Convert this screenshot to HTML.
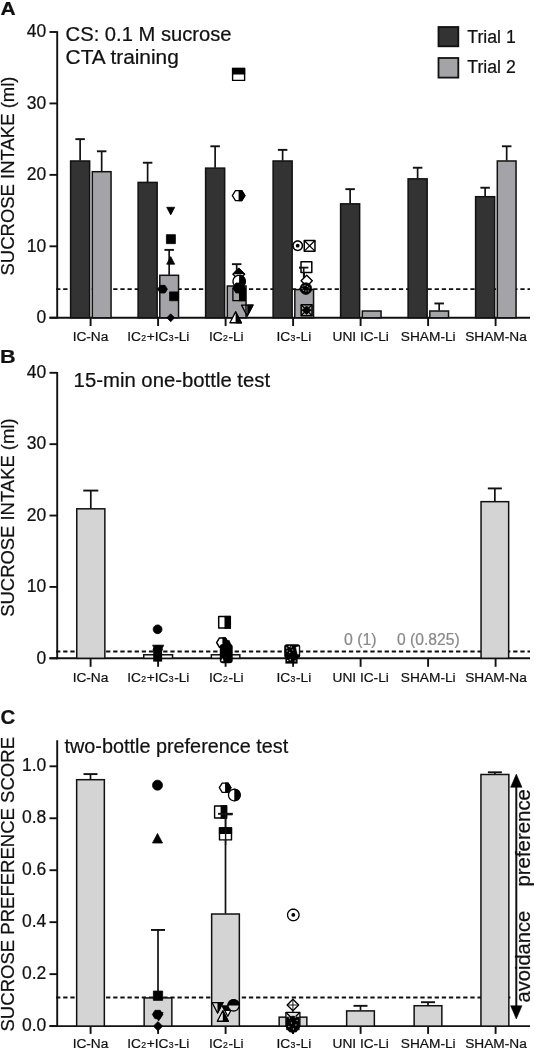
<!DOCTYPE html><html><head><meta charset="utf-8"><title>Figure</title><style>html,body{margin:0;padding:0;background:#fff}svg{display:block}</style></head><body>
<svg width="534" height="1050" viewBox="0 0 534 1050" font-family="&quot;Liberation Sans&quot;, sans-serif">
<rect width="534" height="1050" fill="#fff"/>
<text x="0.6" y="14.5" font-size="19" text-anchor="start" font-weight="bold" fill="#111" textLength="15.2" lengthAdjust="spacingAndGlyphs" stroke="#111" stroke-width="0.22" >A</text>
<text x="65.6" y="41" font-size="20" text-anchor="start" font-weight="normal" fill="#111" textLength="166" lengthAdjust="spacingAndGlyphs" stroke="#111" stroke-width="0.22" >CS: 0.1 M sucrose</text>
<text x="65.6" y="63.8" font-size="20" text-anchor="start" font-weight="normal" fill="#111" textLength="113.2" lengthAdjust="spacingAndGlyphs" stroke="#111" stroke-width="0.22" >CTA training</text>
<rect x="438.50" y="27.00" width="19.80" height="19.30" fill="#333333" stroke="#111" stroke-width="1.8"/>
<rect x="438.50" y="58.00" width="19.80" height="19.60" fill="#a4a3a7" stroke="#111" stroke-width="1.8"/>
<text x="467.3" y="43.2" font-size="18" text-anchor="start" font-weight="normal" fill="#111" textLength="48.5" lengthAdjust="spacingAndGlyphs" stroke="#111" stroke-width="0.22" >Trial 1</text>
<text x="467.3" y="73.2" font-size="18" text-anchor="start" font-weight="normal" fill="#111" textLength="48.5" lengthAdjust="spacingAndGlyphs" stroke="#111" stroke-width="0.22" >Trial 2</text>
<line x1="57.20" y1="31.14" x2="57.20" y2="318.60" stroke="#111" stroke-width="1.9"/>
<line x1="49.50" y1="317.75" x2="530.00" y2="317.75" stroke="#111" stroke-width="1.9"/>
<line x1="49.50" y1="317.75" x2="57.20" y2="317.75" stroke="#111" stroke-width="1.9"/>
<text x="46.3" y="323.05" font-size="17.5" text-anchor="end" font-weight="normal" fill="#111" stroke="#111" stroke-width="0.22" >0</text>
<line x1="49.50" y1="246.31" x2="57.20" y2="246.31" stroke="#111" stroke-width="1.9"/>
<text x="46.3" y="251.61" font-size="17.5" text-anchor="end" font-weight="normal" fill="#111" stroke="#111" stroke-width="0.22" >10</text>
<line x1="49.50" y1="174.87" x2="57.20" y2="174.87" stroke="#111" stroke-width="1.9"/>
<text x="46.3" y="180.17000000000002" font-size="17.5" text-anchor="end" font-weight="normal" fill="#111" stroke="#111" stroke-width="0.22" >20</text>
<line x1="49.50" y1="103.43" x2="57.20" y2="103.43" stroke="#111" stroke-width="1.9"/>
<text x="46.3" y="108.73" font-size="17.5" text-anchor="end" font-weight="normal" fill="#111" stroke="#111" stroke-width="0.22" >30</text>
<line x1="49.50" y1="31.99" x2="57.20" y2="31.99" stroke="#111" stroke-width="1.9"/>
<text x="46.3" y="37.290000000000006" font-size="17.5" text-anchor="end" font-weight="normal" fill="#111" stroke="#111" stroke-width="0.22" >40</text>
<line x1="90.60" y1="317.75" x2="90.60" y2="326.05" stroke="#111" stroke-width="1.9"/>
<line x1="158.10" y1="317.75" x2="158.10" y2="326.05" stroke="#111" stroke-width="1.9"/>
<line x1="225.60" y1="317.75" x2="225.60" y2="326.05" stroke="#111" stroke-width="1.9"/>
<line x1="293.10" y1="317.75" x2="293.10" y2="326.05" stroke="#111" stroke-width="1.9"/>
<line x1="360.60" y1="317.75" x2="360.60" y2="326.05" stroke="#111" stroke-width="1.9"/>
<line x1="428.10" y1="317.75" x2="428.10" y2="326.05" stroke="#111" stroke-width="1.9"/>
<line x1="495.60" y1="317.75" x2="495.60" y2="326.05" stroke="#111" stroke-width="1.9"/>
<text x="14.3" y="275.5" font-size="18" text-anchor="start" font-weight="normal" fill="#111" textLength="199" lengthAdjust="spacingAndGlyphs" transform="rotate(-90 14.3 275.5)" stroke="#111" stroke-width="0.22" >SUCROSE INTAKE (ml)</text>
<line x1="56.05" y1="289.17" x2="530.00" y2="289.17" stroke="#111" stroke-width="1.9" stroke-dasharray="4.3 2.843"/>
<rect x="70.60" y="160.98" width="19.05" height="156.77" fill="#333333" stroke="#111" stroke-width="1.5"/>
<line x1="80.12" y1="160.58" x2="80.12" y2="139.15" stroke="#111" stroke-width="1.7"/>
<line x1="75.38" y1="139.15" x2="84.88" y2="139.15" stroke="#111" stroke-width="1.9"/>
<rect x="92.30" y="171.70" width="18.75" height="146.05" fill="#a4a3a7" stroke="#111" stroke-width="1.5"/>
<line x1="101.67" y1="171.30" x2="101.67" y2="151.29" stroke="#111" stroke-width="1.7"/>
<line x1="96.92" y1="151.29" x2="106.42" y2="151.29" stroke="#111" stroke-width="1.9"/>
<rect x="138.10" y="182.41" width="19.05" height="135.34" fill="#333333" stroke="#111" stroke-width="1.5"/>
<line x1="147.62" y1="182.01" x2="147.62" y2="162.73" stroke="#111" stroke-width="1.7"/>
<line x1="142.88" y1="162.73" x2="152.38" y2="162.73" stroke="#111" stroke-width="1.9"/>
<rect x="159.80" y="275.29" width="18.75" height="42.46" fill="#a4a3a7" stroke="#111" stroke-width="1.5"/>
<line x1="169.17" y1="274.89" x2="169.17" y2="249.88" stroke="#111" stroke-width="1.7"/>
<line x1="164.42" y1="249.88" x2="173.92" y2="249.88" stroke="#111" stroke-width="1.9"/>
<rect x="205.60" y="168.13" width="19.05" height="149.62" fill="#333333" stroke="#111" stroke-width="1.5"/>
<line x1="215.12" y1="167.73" x2="215.12" y2="146.29" stroke="#111" stroke-width="1.7"/>
<line x1="210.38" y1="146.29" x2="219.88" y2="146.29" stroke="#111" stroke-width="1.9"/>
<rect x="227.30" y="286.00" width="18.75" height="31.75" fill="#a4a3a7" stroke="#111" stroke-width="1.5"/>
<line x1="236.67" y1="285.60" x2="236.67" y2="264.17" stroke="#111" stroke-width="1.7"/>
<line x1="231.92" y1="264.17" x2="241.42" y2="264.17" stroke="#111" stroke-width="1.9"/>
<rect x="273.10" y="160.98" width="19.05" height="156.77" fill="#333333" stroke="#111" stroke-width="1.5"/>
<line x1="282.62" y1="160.58" x2="282.62" y2="149.87" stroke="#111" stroke-width="1.7"/>
<line x1="277.88" y1="149.87" x2="287.38" y2="149.87" stroke="#111" stroke-width="1.9"/>
<rect x="294.80" y="289.57" width="18.75" height="28.18" fill="#a4a3a7" stroke="#111" stroke-width="1.5"/>
<line x1="304.18" y1="289.17" x2="304.18" y2="267.74" stroke="#111" stroke-width="1.7"/>
<line x1="299.43" y1="267.74" x2="308.93" y2="267.74" stroke="#111" stroke-width="1.9"/>
<rect x="340.60" y="203.85" width="19.05" height="113.90" fill="#333333" stroke="#111" stroke-width="1.5"/>
<line x1="350.12" y1="203.45" x2="350.12" y2="189.16" stroke="#111" stroke-width="1.7"/>
<line x1="345.38" y1="189.16" x2="354.88" y2="189.16" stroke="#111" stroke-width="1.9"/>
<rect x="362.30" y="311.01" width="18.75" height="6.74" fill="#a4a3a7" stroke="#111" stroke-width="1.5"/>
<rect x="408.10" y="178.84" width="19.05" height="138.91" fill="#333333" stroke="#111" stroke-width="1.5"/>
<line x1="417.62" y1="178.44" x2="417.62" y2="167.73" stroke="#111" stroke-width="1.7"/>
<line x1="412.88" y1="167.73" x2="422.38" y2="167.73" stroke="#111" stroke-width="1.9"/>
<rect x="429.80" y="311.01" width="18.75" height="6.74" fill="#a4a3a7" stroke="#111" stroke-width="1.5"/>
<line x1="439.18" y1="310.61" x2="439.18" y2="303.46" stroke="#111" stroke-width="1.7"/>
<line x1="434.43" y1="303.46" x2="443.93" y2="303.46" stroke="#111" stroke-width="1.9"/>
<rect x="475.60" y="196.70" width="19.05" height="121.05" fill="#333333" stroke="#111" stroke-width="1.5"/>
<line x1="485.12" y1="196.30" x2="485.12" y2="187.73" stroke="#111" stroke-width="1.7"/>
<line x1="480.38" y1="187.73" x2="489.88" y2="187.73" stroke="#111" stroke-width="1.9"/>
<rect x="497.30" y="160.98" width="18.75" height="156.77" fill="#a4a3a7" stroke="#111" stroke-width="1.5"/>
<line x1="506.68" y1="160.58" x2="506.68" y2="146.29" stroke="#111" stroke-width="1.7"/>
<line x1="501.93" y1="146.29" x2="511.43" y2="146.29" stroke="#111" stroke-width="1.9"/>
<text x="90.5" y="341" font-size="13.7" text-anchor="middle" font-weight="normal" fill="#111" stroke="#111" stroke-width="0.22" >IC-Na</text>
<text x="158.3" y="341" font-size="13.7" text-anchor="middle" font-weight="normal" fill="#111" stroke="#111" stroke-width="0.22" >IC<tspan font-size="8.7" dx="0.4" letter-spacing="0.6">2</tspan>+IC<tspan font-size="8.7" dx="0.4" letter-spacing="0.6">3</tspan>-Li</text>
<text x="226.3" y="341" font-size="13.7" text-anchor="middle" font-weight="normal" fill="#111" stroke="#111" stroke-width="0.22" >IC<tspan font-size="8.7" dx="0.4" letter-spacing="0.6">2</tspan>-Li</text>
<text x="293.9" y="341" font-size="13.7" text-anchor="middle" font-weight="normal" fill="#111" stroke="#111" stroke-width="0.22" >IC<tspan font-size="8.7" dx="0.4" letter-spacing="0.6">3</tspan>-Li</text>
<text x="360.7" y="341" font-size="13.7" text-anchor="middle" font-weight="normal" fill="#111" stroke="#111" stroke-width="0.22" >UNI IC-Li</text>
<text x="428.25" y="341" font-size="13.7" text-anchor="middle" font-weight="normal" fill="#111" stroke="#111" stroke-width="0.22" >SHAM-Li</text>
<text x="496.0" y="341" font-size="13.7" text-anchor="middle" font-weight="normal" fill="#111" stroke="#111" stroke-width="0.22" >SHAM-Na</text>
<polygon points="170.70,214.89 174.70,207.29 166.70,207.29" fill="#000" stroke="#000" stroke-width="0.78" stroke-linejoin="round"/>
<polygon points="166.40,234.67 175.40,234.67 175.40,243.67 166.40,243.67" fill="#000" stroke="#000" stroke-width="0.78" stroke-linejoin="round"/>
<polygon points="170.70,256.60 174.70,264.20 166.70,264.20" fill="#000" stroke="#000" stroke-width="0.78" stroke-linejoin="round"/>
<polygon points="157.80,289.17 160.20,285.33 165.00,285.33 167.40,289.17 165.00,293.01 160.20,293.01" fill="#000" stroke="#000" stroke-width="0.78" stroke-linejoin="round"/>
<polygon points="169.60,291.92 178.40,291.92 178.40,300.72 169.60,300.72" fill="#000" stroke="#000" stroke-width="0.78" stroke-linejoin="round"/>
<polygon points="170.70,313.85 174.60,317.75 170.70,321.65 166.80,317.75" fill="#000" stroke="#000" stroke-width="0.78" stroke-linejoin="round"/>
<polygon points="232.60,68.40 244.60,68.40 244.60,80.40 232.60,80.40" fill="#fff" stroke="#000" stroke-width="1.4" stroke-linejoin="round"/>
<clipPath id="c1"><rect x="231.60" y="67.40" width="14.00" height="7.00"/></clipPath>
<polygon points="232.60,68.40 244.60,68.40 244.60,80.40 232.60,80.40" fill="#000" stroke="#000" stroke-width="1.4" clip-path="url(#c1)"/>
<polygon points="232.35,195.70 235.47,190.70 241.72,190.70 244.85,195.70 241.72,200.70 235.47,200.70" fill="#fff" stroke="#000" stroke-width="1.3" stroke-linejoin="round"/>
<clipPath id="c2"><rect x="238.60" y="188.45" width="7.25" height="14.50"/></clipPath>
<polygon points="232.35,195.70 235.47,190.70 241.72,190.70 244.85,195.70 241.72,200.70 235.47,200.70" fill="#000" stroke="#000" stroke-width="1.3" clip-path="url(#c2)"/>
<polygon points="238.80,268.50 244.60,274.30 238.80,280.10 233.00,274.30" fill="#fff" stroke="#000" stroke-width="1.3" stroke-linejoin="round"/>
<clipPath id="c3"><rect x="232.00" y="267.50" width="13.60" height="6.80"/></clipPath>
<polygon points="238.80,268.50 244.60,274.30 238.80,280.10 233.00,274.30" fill="#000" stroke="#000" stroke-width="1.3" clip-path="url(#c3)"/>
<polygon points="245.20,281.40 245.11,282.46 244.83,283.49 244.38,284.45 243.77,285.32 243.02,286.07 242.15,286.68 241.19,287.13 240.16,287.41 239.10,287.50 238.04,287.41 237.01,287.13 236.05,286.68 235.18,286.07 234.43,285.32 233.82,284.45 233.37,283.49 233.09,282.46 233.00,281.40 233.09,280.34 233.37,279.31 233.82,278.35 234.43,277.48 235.18,276.73 236.05,276.12 237.01,275.67 238.04,275.39 239.10,275.30 240.16,275.39 241.19,275.67 242.15,276.12 243.02,276.73 243.77,277.48 244.38,278.35 244.83,279.31 245.11,280.34" fill="#fff" stroke="#000" stroke-width="1.3" stroke-linejoin="round"/>
<clipPath id="c4"><rect x="239.10" y="274.30" width="7.10" height="14.20"/></clipPath>
<polygon points="245.20,281.40 245.11,282.46 244.83,283.49 244.38,284.45 243.77,285.32 243.02,286.07 242.15,286.68 241.19,287.13 240.16,287.41 239.10,287.50 238.04,287.41 237.01,287.13 236.05,286.68 235.18,286.07 234.43,285.32 233.82,284.45 233.37,283.49 233.09,282.46 233.00,281.40 233.09,280.34 233.37,279.31 233.82,278.35 234.43,277.48 235.18,276.73 236.05,276.12 237.01,275.67 238.04,275.39 239.10,275.30 240.16,275.39 241.19,275.67 242.15,276.12 243.02,276.73 243.77,277.48 244.38,278.35 244.83,279.31 245.11,280.34" fill="#000" stroke="#000" stroke-width="1.3" clip-path="url(#c4)"/>
<polygon points="232.75,288.00 235.88,283.00 242.12,283.00 245.25,288.00 242.12,293.00 235.88,293.00" fill="#000" stroke="#000" stroke-width="0.78" stroke-linejoin="round"/>
<polygon points="232.90,288.50 245.10,288.50 245.10,300.70 232.90,300.70" fill="none" stroke="#000" stroke-width="1.3" stroke-linejoin="round"/>
<clipPath id="c5"><rect x="239.00" y="287.50" width="7.10" height="14.20"/></clipPath>
<polygon points="232.90,288.50 245.10,288.50 245.10,300.70 232.90,300.70" fill="#000" stroke="#000" stroke-width="1.3" clip-path="url(#c5)"/>
<polygon points="247.20,316.00 252.90,305.17 241.50,305.17" fill="none" stroke="#000" stroke-width="1.3" stroke-linejoin="round"/>
<clipPath id="c6"><rect x="247.20" y="303.60" width="6.70" height="13.40"/></clipPath>
<polygon points="247.20,316.00 252.90,305.17 241.50,305.17" fill="#000" stroke="#000" stroke-width="1.3" clip-path="url(#c6)"/>
<polygon points="235.60,311.90 241.30,322.73 229.90,322.73" fill="#fff" stroke="#000" stroke-width="1.3" stroke-linejoin="round"/>
<clipPath id="c7"><rect x="235.60" y="310.90" width="6.70" height="13.40"/></clipPath>
<polygon points="235.60,311.90 241.30,322.73 229.90,322.73" fill="#000" stroke="#000" stroke-width="1.3" clip-path="url(#c7)"/>
<polygon points="302.40,245.70 302.33,246.52 302.12,247.31 301.77,248.05 301.30,248.72 300.72,249.30 300.05,249.77 299.31,250.12 298.52,250.33 297.70,250.40 296.88,250.33 296.09,250.12 295.35,249.77 294.68,249.30 294.10,248.72 293.63,248.05 293.28,247.31 293.07,246.52 293.00,245.70 293.07,244.88 293.28,244.09 293.63,243.35 294.10,242.68 294.68,242.10 295.35,241.63 296.09,241.28 296.88,241.07 297.70,241.00 298.52,241.07 299.31,241.28 300.05,241.63 300.72,242.10 301.30,242.68 301.77,243.35 302.12,244.09 302.33,244.88" fill="#fff" stroke="#000" stroke-width="1.5" stroke-linejoin="round"/>
<circle cx="297.70" cy="245.70" r="1.9" fill="#000"/>
<polygon points="304.25,240.45 314.95,240.45 314.95,251.15 304.25,251.15" fill="#fff" stroke="#000" stroke-width="1.5" stroke-linejoin="round"/>
<line x1="304.25" y1="240.45" x2="314.95" y2="251.15" stroke="#000" stroke-width="1.25"/>
<line x1="304.25" y1="251.15" x2="314.95" y2="240.45" stroke="#000" stroke-width="1.25"/>
<polygon points="301.00,261.70 311.80,261.70 311.80,272.50 301.00,272.50" fill="#fff" stroke="#000" stroke-width="1.5" stroke-linejoin="round"/>
<line x1="303.70" y1="289.17" x2="303.70" y2="267.60" stroke="#111" stroke-width="1.6"/>
<line x1="299.00" y1="267.60" x2="308.40" y2="267.60" stroke="#111" stroke-width="1.8"/>
<polygon points="306.70,275.20 312.30,280.80 306.70,286.40 301.10,280.80" fill="#fff" stroke="#000" stroke-width="1.4" stroke-linejoin="round"/>
<polygon points="311.70,288.60 311.61,289.61 311.35,290.58 310.92,291.50 310.34,292.33 309.63,293.04 308.80,293.62 307.88,294.05 306.91,294.31 305.90,294.40 304.89,294.31 303.92,294.05 303.00,293.62 302.17,293.04 301.46,292.33 300.88,291.50 300.45,290.58 300.19,289.61 300.10,288.60 300.19,287.59 300.45,286.62 300.88,285.70 301.46,284.87 302.17,284.16 303.00,283.58 303.92,283.15 304.89,282.89 305.90,282.80 306.91,282.89 307.88,283.15 308.80,283.58 309.63,284.16 310.34,284.87 310.92,285.70 311.35,286.62 311.61,287.59" fill="#000" stroke="#000" stroke-width="0.78" stroke-linejoin="round"/>
<circle cx="302.9" cy="286.1" r="0.65" fill="#999"/>
<circle cx="304.9" cy="285.4" r="0.65" fill="#999"/>
<circle cx="307.4" cy="286.4" r="0.65" fill="#999"/>
<circle cx="309.1" cy="287.8" r="0.65" fill="#999"/>
<circle cx="303.4" cy="290.4" r="0.65" fill="#999"/>
<circle cx="305.9" cy="291.0" r="0.65" fill="#999"/>
<circle cx="308.3" cy="290.8" r="0.65" fill="#999"/>
<circle cx="302.1" cy="288.6" r="0.65" fill="#999"/>
<polygon points="301.15,304.75 312.05,304.75 312.05,315.65 301.15,315.65" fill="#a4a3a7" stroke="#000" stroke-width="1.5" stroke-linejoin="round"/>
<line x1="301.15" y1="304.75" x2="312.05" y2="315.65" stroke="#000" stroke-width="1.25"/>
<line x1="301.15" y1="315.65" x2="312.05" y2="304.75" stroke="#000" stroke-width="1.25"/>
<polygon points="306.60,305.95 310.85,310.20 306.60,314.45 302.35,310.20" fill="#000" stroke="#000" stroke-width="0.78" stroke-linejoin="round"/>
<line x1="301.50" y1="310.20" x2="311.70" y2="310.20" stroke="#000" stroke-width="1"/>
<text x="0" y="362.6" font-size="18.6" text-anchor="start" font-weight="bold" fill="#111" textLength="15.6" lengthAdjust="spacingAndGlyphs" stroke="#111" stroke-width="0.22" >B</text>
<text x="73.6" y="387.3" font-size="20" text-anchor="start" font-weight="normal" fill="#111" textLength="196.5" lengthAdjust="spacingAndGlyphs" stroke="#111" stroke-width="0.22" >15-min one-bottle test</text>
<line x1="57.20" y1="371.95" x2="57.20" y2="659.15" stroke="#111" stroke-width="1.9"/>
<line x1="49.50" y1="658.30" x2="530.00" y2="658.30" stroke="#111" stroke-width="1.9"/>
<line x1="49.50" y1="658.30" x2="57.20" y2="658.30" stroke="#111" stroke-width="1.9"/>
<text x="46.3" y="663.5999999999999" font-size="17.5" text-anchor="end" font-weight="normal" fill="#111" stroke="#111" stroke-width="0.22" >0</text>
<line x1="49.50" y1="586.92" x2="57.20" y2="586.92" stroke="#111" stroke-width="1.9"/>
<text x="46.3" y="592.2249999999999" font-size="17.5" text-anchor="end" font-weight="normal" fill="#111" stroke="#111" stroke-width="0.22" >10</text>
<line x1="49.50" y1="515.55" x2="57.20" y2="515.55" stroke="#111" stroke-width="1.9"/>
<text x="46.3" y="520.8499999999999" font-size="17.5" text-anchor="end" font-weight="normal" fill="#111" stroke="#111" stroke-width="0.22" >20</text>
<line x1="49.50" y1="444.17" x2="57.20" y2="444.17" stroke="#111" stroke-width="1.9"/>
<text x="46.3" y="449.47499999999997" font-size="17.5" text-anchor="end" font-weight="normal" fill="#111" stroke="#111" stroke-width="0.22" >30</text>
<line x1="49.50" y1="372.80" x2="57.20" y2="372.80" stroke="#111" stroke-width="1.9"/>
<text x="46.3" y="378.09999999999997" font-size="17.5" text-anchor="end" font-weight="normal" fill="#111" stroke="#111" stroke-width="0.22" >40</text>
<text x="14.3" y="616.8" font-size="18" text-anchor="start" font-weight="normal" fill="#111" textLength="198.4" lengthAdjust="spacingAndGlyphs" transform="rotate(-90 14.3 616.8)" stroke="#111" stroke-width="0.22" >SUCROSE INTAKE (ml)</text>
<line x1="56.05" y1="651.52" x2="530.00" y2="651.52" stroke="#111" stroke-width="1.9" stroke-dasharray="4.3 2.843"/>
<rect x="76.75" y="508.81" width="28.10" height="149.49" fill="#d4d4d4" stroke="#111" stroke-width="1.5"/>
<line x1="90.80" y1="508.41" x2="90.80" y2="490.57" stroke="#111" stroke-width="1.7"/>
<line x1="83.30" y1="490.57" x2="98.30" y2="490.57" stroke="#111" stroke-width="1.9"/>
<rect x="481.05" y="501.67" width="27.60" height="156.62" fill="#d4d4d4" stroke="#111" stroke-width="1.5"/>
<line x1="494.85" y1="501.27" x2="494.85" y2="488.43" stroke="#111" stroke-width="1.7"/>
<line x1="487.85" y1="488.43" x2="501.85" y2="488.43" stroke="#111" stroke-width="1.9"/>
<rect x="143.75" y="654.77" width="28.80" height="3.53" fill="#fbfbfb" stroke="#111" stroke-width="1.5"/>
<rect x="211.35" y="654.77" width="28.50" height="3.53" fill="#fbfbfb" stroke="#111" stroke-width="1.5"/>
<line x1="90.60" y1="658.30" x2="90.60" y2="666.80" stroke="#111" stroke-width="1.9"/>
<line x1="158.10" y1="658.30" x2="158.10" y2="666.80" stroke="#111" stroke-width="1.9"/>
<line x1="225.60" y1="658.30" x2="225.60" y2="666.80" stroke="#111" stroke-width="1.9"/>
<line x1="293.10" y1="658.30" x2="293.10" y2="666.80" stroke="#111" stroke-width="1.9"/>
<line x1="360.60" y1="658.30" x2="360.60" y2="666.80" stroke="#111" stroke-width="1.9"/>
<line x1="428.10" y1="658.30" x2="428.10" y2="666.80" stroke="#111" stroke-width="1.9"/>
<line x1="495.60" y1="658.30" x2="495.60" y2="666.80" stroke="#111" stroke-width="1.9"/>
<text x="90.5" y="681.6" font-size="13.7" text-anchor="middle" font-weight="normal" fill="#111" stroke="#111" stroke-width="0.22" >IC-Na</text>
<text x="158.3" y="681.6" font-size="13.7" text-anchor="middle" font-weight="normal" fill="#111" stroke="#111" stroke-width="0.22" >IC<tspan font-size="8.7" dx="0.4" letter-spacing="0.6">2</tspan>+IC<tspan font-size="8.7" dx="0.4" letter-spacing="0.6">3</tspan>-Li</text>
<text x="226.3" y="681.6" font-size="13.7" text-anchor="middle" font-weight="normal" fill="#111" stroke="#111" stroke-width="0.22" >IC<tspan font-size="8.7" dx="0.4" letter-spacing="0.6">2</tspan>-Li</text>
<text x="293.9" y="681.6" font-size="13.7" text-anchor="middle" font-weight="normal" fill="#111" stroke="#111" stroke-width="0.22" >IC<tspan font-size="8.7" dx="0.4" letter-spacing="0.6">3</tspan>-Li</text>
<text x="360.7" y="681.6" font-size="13.7" text-anchor="middle" font-weight="normal" fill="#111" stroke="#111" stroke-width="0.22" >UNI IC-Li</text>
<text x="428.25" y="681.6" font-size="13.7" text-anchor="middle" font-weight="normal" fill="#111" stroke="#111" stroke-width="0.22" >SHAM-Li</text>
<text x="496.0" y="681.6" font-size="13.7" text-anchor="middle" font-weight="normal" fill="#111" stroke="#111" stroke-width="0.22" >SHAM-Na</text>
<text x="344" y="644.5" font-size="15.8" text-anchor="start" font-weight="normal" fill="#8a8a8a" textLength="32.6" lengthAdjust="spacingAndGlyphs" stroke="#8a8a8a" stroke-width="0.22" >0 (1)</text>
<text x="397" y="644.5" font-size="15.8" text-anchor="start" font-weight="normal" fill="#8a8a8a" textLength="62.6" lengthAdjust="spacingAndGlyphs" stroke="#8a8a8a" stroke-width="0.22" >0 (0.825)</text>
<polygon points="162.00,629.30 161.93,630.06 161.73,630.80 161.41,631.50 160.97,632.13 160.43,632.67 159.80,633.11 159.10,633.43 158.36,633.63 157.60,633.70 156.84,633.63 156.10,633.43 155.40,633.11 154.77,632.67 154.23,632.13 153.79,631.50 153.47,630.80 153.27,630.06 153.20,629.30 153.27,628.54 153.47,627.80 153.79,627.10 154.23,626.47 154.77,625.93 155.40,625.49 156.10,625.17 156.84,624.97 157.60,624.90 158.36,624.97 159.10,625.17 159.80,625.49 160.43,625.93 160.97,626.47 161.41,627.10 161.73,627.80 161.93,628.54" fill="#000" stroke="#000" stroke-width="0.78" stroke-linejoin="round"/>
<polygon points="158.20,655.80 163.80,645.16 152.60,645.16" fill="#000" stroke="#000" stroke-width="0.78" stroke-linejoin="round"/>
<polygon points="153.05,649.50 155.43,645.70 160.18,645.70 162.55,649.50 160.18,653.30 155.43,653.30" fill="#000" stroke="#000" stroke-width="0.78" stroke-linejoin="round"/>
<rect x="153.2" y="648" width="8.9" height="13.6" fill="#000"/>
<polygon points="218.70,616.50 230.30,616.50 230.30,628.10 218.70,628.10" fill="#fff" stroke="#000" stroke-width="1.5" stroke-linejoin="round"/>
<clipPath id="c8"><rect x="224.50" y="615.50" width="6.80" height="13.60"/></clipPath>
<polygon points="218.70,616.50 230.30,616.50 230.30,628.10 218.70,628.10" fill="#000" stroke="#000" stroke-width="1.5" clip-path="url(#c8)"/>
<polygon points="216.60,642.60 219.50,637.96 225.30,637.96 228.20,642.60 225.30,647.24 219.50,647.24" fill="#fff" stroke="#000" stroke-width="1.5" stroke-linejoin="round"/>
<clipPath id="c9"><rect x="222.40" y="635.80" width="6.80" height="13.60"/></clipPath>
<polygon points="216.60,642.60 219.50,637.96 225.30,637.96 228.20,642.60 225.30,647.24 219.50,647.24" fill="#000" stroke="#000" stroke-width="1.5" clip-path="url(#c9)"/>
<rect x="219.8" y="644" width="12.9" height="19.2" rx="3" fill="#000"/>
<polygon points="224.00,644.00 229.00,640.00 232.00,647.00" fill="#000" stroke="#000" stroke-width="0.5" stroke-linejoin="round"/>
<polygon points="220.60,661.20 222.60,657.80 223.80,661.20" fill="#fff" stroke="#000" stroke-width="0.4" stroke-linejoin="round"/>
<rect x="284.2" y="644.3" width="16" height="13.6" rx="2.5" fill="#000"/>
<rect x="285.4" y="655" width="12.2" height="8.6" fill="#000"/>
<polygon points="296.00,647.20 298.80,646.60 298.80,654.30 297.60,654.00" fill="#fff" stroke="#fff" stroke-width="0.3" stroke-linejoin="round"/>
<circle cx="286.7" cy="648.0" r="0.75" fill="#ccc"/>
<circle cx="289.2" cy="646.5" r="0.75" fill="#ccc"/>
<circle cx="291.2" cy="647.0" r="0.75" fill="#bbb"/>
<circle cx="287.2" cy="651.0" r="0.75" fill="#999"/>
<circle cx="289.7" cy="652.5" r="0.75" fill="#999"/>
<circle cx="287.7" cy="660.5" r="0.75" fill="#ddd"/>
<circle cx="290.2" cy="659.8" r="0.75" fill="#ccc"/>
<circle cx="295.2" cy="661.0" r="0.75" fill="#bbb"/>
<circle cx="292.7" cy="650.0" r="0.75" fill="#777"/>
<text x="0.4" y="723.7" font-size="19.4" text-anchor="start" font-weight="bold" fill="#111" textLength="14.8" lengthAdjust="spacingAndGlyphs" stroke="#111" stroke-width="0.22" >C</text>
<text x="64.5" y="752.6" font-size="20" text-anchor="start" font-weight="normal" fill="#111" textLength="223.7" lengthAdjust="spacingAndGlyphs" stroke="#111" stroke-width="0.22" >two-bottle preference test</text>
<line x1="57.20" y1="740.20" x2="57.20" y2="1026.95" stroke="#111" stroke-width="1.9"/>
<line x1="49.50" y1="1026.10" x2="530.00" y2="1026.10" stroke="#111" stroke-width="1.9"/>
<line x1="49.50" y1="1026.10" x2="57.20" y2="1026.10" stroke="#111" stroke-width="1.9"/>
<text x="46.3" y="1031.1" font-size="17.5" text-anchor="end" font-weight="normal" fill="#111" stroke="#111" stroke-width="0.22" >0.0</text>
<line x1="49.50" y1="974.14" x2="57.20" y2="974.14" stroke="#111" stroke-width="1.9"/>
<text x="46.3" y="979.1399999999999" font-size="17.5" text-anchor="end" font-weight="normal" fill="#111" stroke="#111" stroke-width="0.22" >0.2</text>
<line x1="49.50" y1="922.18" x2="57.20" y2="922.18" stroke="#111" stroke-width="1.9"/>
<text x="46.3" y="927.1799999999998" font-size="17.5" text-anchor="end" font-weight="normal" fill="#111" stroke="#111" stroke-width="0.22" >0.4</text>
<line x1="49.50" y1="870.22" x2="57.20" y2="870.22" stroke="#111" stroke-width="1.9"/>
<text x="46.3" y="875.2199999999999" font-size="17.5" text-anchor="end" font-weight="normal" fill="#111" stroke="#111" stroke-width="0.22" >0.6</text>
<line x1="49.50" y1="818.26" x2="57.20" y2="818.26" stroke="#111" stroke-width="1.9"/>
<text x="46.3" y="823.2599999999999" font-size="17.5" text-anchor="end" font-weight="normal" fill="#111" stroke="#111" stroke-width="0.22" >0.8</text>
<line x1="49.50" y1="766.30" x2="57.20" y2="766.30" stroke="#111" stroke-width="1.9"/>
<text x="46.3" y="771.3" font-size="17.5" text-anchor="end" font-weight="normal" fill="#111" stroke="#111" stroke-width="0.22" >1.0</text>
<text x="14" y="1031.5" font-size="18.4" text-anchor="start" font-weight="normal" fill="#111" textLength="294.5" lengthAdjust="spacingAndGlyphs" transform="rotate(-90 14 1031.5)" stroke="#111" stroke-width="0.22" >SUCROSE PREFERENCE SCORE</text>
<line x1="56.05" y1="997.52" x2="511.00" y2="997.52" stroke="#111" stroke-width="1.9" stroke-dasharray="4.3 2.843"/>
<rect x="76.65" y="779.69" width="27.70" height="246.41" fill="#d4d4d4" stroke="#111" stroke-width="1.5"/>
<line x1="90.50" y1="779.29" x2="90.50" y2="774.09" stroke="#111" stroke-width="1.7"/>
<line x1="83.50" y1="774.09" x2="97.50" y2="774.09" stroke="#111" stroke-width="1.9"/>
<rect x="144.15" y="997.92" width="27.70" height="28.18" fill="#d4d4d4" stroke="#111" stroke-width="1.5"/>
<line x1="158.00" y1="997.52" x2="158.00" y2="929.97" stroke="#111" stroke-width="1.7"/>
<line x1="151.00" y1="929.97" x2="165.00" y2="929.97" stroke="#111" stroke-width="1.9"/>
<rect x="211.65" y="914.01" width="27.70" height="112.09" fill="#d4d4d4" stroke="#111" stroke-width="1.5"/>
<line x1="225.50" y1="913.61" x2="225.50" y2="814.36" stroke="#111" stroke-width="1.7"/>
<line x1="218.50" y1="814.36" x2="232.50" y2="814.36" stroke="#111" stroke-width="1.9"/>
<rect x="279.15" y="1017.15" width="27.70" height="8.95" fill="#d4d4d4" stroke="#111" stroke-width="1.5"/>
<rect x="346.65" y="1010.91" width="27.70" height="15.19" fill="#d4d4d4" stroke="#111" stroke-width="1.5"/>
<line x1="360.50" y1="1010.51" x2="360.50" y2="1005.84" stroke="#111" stroke-width="1.7"/>
<line x1="353.50" y1="1005.84" x2="367.50" y2="1005.84" stroke="#111" stroke-width="1.9"/>
<rect x="414.15" y="1005.72" width="27.70" height="20.38" fill="#d4d4d4" stroke="#111" stroke-width="1.5"/>
<line x1="428.00" y1="1005.32" x2="428.00" y2="1002.20" stroke="#111" stroke-width="1.7"/>
<line x1="421.00" y1="1002.20" x2="435.00" y2="1002.20" stroke="#111" stroke-width="1.9"/>
<rect x="480.95" y="774.49" width="27.90" height="251.61" fill="#d4d4d4" stroke="#111" stroke-width="1.5"/>
<line x1="494.90" y1="774.09" x2="494.90" y2="772.28" stroke="#111" stroke-width="1.7"/>
<line x1="487.90" y1="772.28" x2="501.90" y2="772.28" stroke="#111" stroke-width="1.9"/>
<line x1="90.60" y1="1026.10" x2="90.60" y2="1033.90" stroke="#111" stroke-width="1.9"/>
<line x1="158.10" y1="1026.10" x2="158.10" y2="1033.90" stroke="#111" stroke-width="1.9"/>
<line x1="225.60" y1="1026.10" x2="225.60" y2="1033.90" stroke="#111" stroke-width="1.9"/>
<line x1="293.10" y1="1026.10" x2="293.10" y2="1033.90" stroke="#111" stroke-width="1.9"/>
<line x1="360.60" y1="1026.10" x2="360.60" y2="1033.90" stroke="#111" stroke-width="1.9"/>
<line x1="428.10" y1="1026.10" x2="428.10" y2="1033.90" stroke="#111" stroke-width="1.9"/>
<line x1="495.60" y1="1026.10" x2="495.60" y2="1033.90" stroke="#111" stroke-width="1.9"/>
<text x="90.5" y="1047.6" font-size="13.7" text-anchor="middle" font-weight="normal" fill="#111" stroke="#111" stroke-width="0.22" >IC-Na</text>
<text x="158.3" y="1047.6" font-size="13.7" text-anchor="middle" font-weight="normal" fill="#111" stroke="#111" stroke-width="0.22" >IC<tspan font-size="8.7" dx="0.4" letter-spacing="0.6">2</tspan>+IC<tspan font-size="8.7" dx="0.4" letter-spacing="0.6">3</tspan>-Li</text>
<text x="226.3" y="1047.6" font-size="13.7" text-anchor="middle" font-weight="normal" fill="#111" stroke="#111" stroke-width="0.22" >IC<tspan font-size="8.7" dx="0.4" letter-spacing="0.6">2</tspan>-Li</text>
<text x="293.9" y="1047.6" font-size="13.7" text-anchor="middle" font-weight="normal" fill="#111" stroke="#111" stroke-width="0.22" >IC<tspan font-size="8.7" dx="0.4" letter-spacing="0.6">3</tspan>-Li</text>
<text x="360.7" y="1047.6" font-size="13.7" text-anchor="middle" font-weight="normal" fill="#111" stroke="#111" stroke-width="0.22" >UNI IC-Li</text>
<text x="428.25" y="1047.6" font-size="13.7" text-anchor="middle" font-weight="normal" fill="#111" stroke="#111" stroke-width="0.22" >SHAM-Li</text>
<text x="496.0" y="1047.6" font-size="13.7" text-anchor="middle" font-weight="normal" fill="#111" stroke="#111" stroke-width="0.22" >SHAM-Na</text>
<line x1="516.30" y1="785.00" x2="516.30" y2="1008.00" stroke="#111" stroke-width="2"/>
<polygon points="516.30,774.00 522.00,787.30 510.60,787.30" fill="#000" stroke="#000" stroke-width="0.5" stroke-linejoin="round"/>
<polygon points="516.30,1019.00 522.00,1005.70 510.60,1005.70" fill="#000" stroke="#000" stroke-width="0.5" stroke-linejoin="round"/>
<text x="529.7" y="886.6" font-size="20" text-anchor="start" font-weight="normal" fill="#111" textLength="97.6" lengthAdjust="spacingAndGlyphs" transform="rotate(-90 529.7 886.6)" stroke="#111" stroke-width="0.22" >preference</text>
<text x="529.7" y="1002.4" font-size="20" text-anchor="start" font-weight="normal" fill="#111" textLength="91.6" lengthAdjust="spacingAndGlyphs" transform="rotate(-90 529.7 1002.4)" stroke="#111" stroke-width="0.22" >avoidance</text>
<polygon points="162.50,785.20 162.42,786.07 162.20,786.91 161.83,787.70 161.33,788.41 160.71,789.03 160.00,789.53 159.21,789.90 158.37,790.12 157.50,790.20 156.63,790.12 155.79,789.90 155.00,789.53 154.29,789.03 153.67,788.41 153.17,787.70 152.80,786.91 152.58,786.07 152.50,785.20 152.58,784.33 152.80,783.49 153.17,782.70 153.67,781.99 154.29,781.37 155.00,780.87 155.79,780.50 156.63,780.28 157.50,780.20 158.37,780.28 159.21,780.50 160.00,780.87 160.71,781.37 161.33,781.99 161.83,782.70 162.20,783.49 162.42,784.33" fill="#000" stroke="#000" stroke-width="0.78" stroke-linejoin="round"/>
<polygon points="157.50,833.50 162.50,843.00 152.50,843.00" fill="#000" stroke="#000" stroke-width="0.78" stroke-linejoin="round"/>
<polygon points="153.35,991.05 162.65,991.05 162.65,1000.35 153.35,1000.35" fill="#000" stroke="#000" stroke-width="0.78" stroke-linejoin="round"/>
<polygon points="152.35,1014.50 154.97,1010.30 160.22,1010.30 162.85,1014.50 160.22,1018.70 154.97,1018.70" fill="#000" stroke="#000" stroke-width="0.78" stroke-linejoin="round"/>
<polygon points="158.60,1021.00 163.10,1012.45 154.10,1012.45" fill="#000" stroke="#000" stroke-width="0.78" stroke-linejoin="round"/>
<polygon points="158.00,1021.60 162.60,1026.20 158.00,1030.80 153.40,1026.20" fill="#000" stroke="#000" stroke-width="0.78" stroke-linejoin="round"/>
<polygon points="219.30,787.70 222.20,783.06 228.00,783.06 230.90,787.70 228.00,792.34 222.20,792.34" fill="#fff" stroke="#000" stroke-width="1.3" stroke-linejoin="round"/>
<clipPath id="c10"><rect x="225.10" y="780.90" width="6.80" height="13.60"/></clipPath>
<polygon points="219.30,787.70 222.20,783.06 228.00,783.06 230.90,787.70 228.00,792.34 222.20,792.34" fill="#000" stroke="#000" stroke-width="1.3" clip-path="url(#c10)"/>
<polygon points="240.10,795.00 240.01,796.01 239.75,796.98 239.32,797.90 238.74,798.73 238.03,799.44 237.20,800.02 236.28,800.45 235.31,800.71 234.30,800.80 233.29,800.71 232.32,800.45 231.40,800.02 230.57,799.44 229.86,798.73 229.28,797.90 228.85,796.98 228.59,796.01 228.50,795.00 228.59,793.99 228.85,793.02 229.28,792.10 229.86,791.27 230.57,790.56 231.40,789.98 232.32,789.55 233.29,789.29 234.30,789.20 235.31,789.29 236.28,789.55 237.20,789.98 238.03,790.56 238.74,791.27 239.32,792.10 239.75,793.02 240.01,793.99" fill="#fff" stroke="#000" stroke-width="1.3" stroke-linejoin="round"/>
<clipPath id="c11"><rect x="234.30" y="788.20" width="6.80" height="13.60"/></clipPath>
<polygon points="240.10,795.00 240.01,796.01 239.75,796.98 239.32,797.90 238.74,798.73 238.03,799.44 237.20,800.02 236.28,800.45 235.31,800.71 234.30,800.80 233.29,800.71 232.32,800.45 231.40,800.02 230.57,799.44 229.86,798.73 229.28,797.90 228.85,796.98 228.59,796.01 228.50,795.00 228.59,793.99 228.85,793.02 229.28,792.10 229.86,791.27 230.57,790.56 231.40,789.98 232.32,789.55 233.29,789.29 234.30,789.20 235.31,789.29 236.28,789.55 237.20,789.98 238.03,790.56 238.74,791.27 239.32,792.10 239.75,793.02 240.01,793.99" fill="#000" stroke="#000" stroke-width="1.3" clip-path="url(#c11)"/>
<polygon points="214.60,806.00 226.60,806.00 226.60,818.00 214.60,818.00" fill="#fff" stroke="#000" stroke-width="1.4" stroke-linejoin="round"/>
<clipPath id="c12"><rect x="220.60" y="805.00" width="7.00" height="14.00"/></clipPath>
<polygon points="214.60,806.00 226.60,806.00 226.60,818.00 214.60,818.00" fill="#000" stroke="#000" stroke-width="1.4" clip-path="url(#c12)"/>
<line x1="218.00" y1="813.80" x2="232.80" y2="813.80" stroke="#111" stroke-width="1.9"/>
<line x1="225.60" y1="813.80" x2="225.60" y2="840.00" stroke="#111" stroke-width="1.4"/>
<polygon points="219.50,827.90 231.50,827.90 231.50,839.90 219.50,839.90" fill="#fff" stroke="#000" stroke-width="1.4" stroke-linejoin="round"/>
<clipPath id="c13"><rect x="218.50" y="826.90" width="14.00" height="7.00"/></clipPath>
<polygon points="219.50,827.90 231.50,827.90 231.50,839.90 219.50,839.90" fill="#000" stroke="#000" stroke-width="1.4" clip-path="url(#c13)"/>
<line x1="225.60" y1="828.00" x2="225.60" y2="845.00" stroke="#111" stroke-width="1.4"/>
<polygon points="217.50,1013.00 223.00,1002.55 212.00,1002.55" fill="none" stroke="#000" stroke-width="1.3" stroke-linejoin="round"/>
<clipPath id="c14"><rect x="217.50" y="1001.00" width="6.50" height="13.00"/></clipPath>
<polygon points="217.50,1013.00 223.00,1002.55 212.00,1002.55" fill="#000" stroke="#000" stroke-width="1.3" clip-path="url(#c14)"/>
<polygon points="227.80,1016.25 233.05,1006.27 222.55,1006.27" fill="#fff" stroke="#000" stroke-width="1.3" stroke-linejoin="round"/>
<clipPath id="c15"><rect x="221.55" y="1004.75" width="12.50" height="6.25"/></clipPath>
<polygon points="227.80,1016.25 233.05,1006.27 222.55,1006.27" fill="#000" stroke="#000" stroke-width="1.3" clip-path="url(#c15)"/>
<polygon points="239.20,1005.40 239.11,1006.37 238.86,1007.32 238.45,1008.20 237.89,1009.00 237.20,1009.69 236.40,1010.25 235.52,1010.66 234.57,1010.91 233.60,1011.00 232.63,1010.91 231.68,1010.66 230.80,1010.25 230.00,1009.69 229.31,1009.00 228.75,1008.20 228.34,1007.32 228.09,1006.37 228.00,1005.40 228.09,1004.43 228.34,1003.48 228.75,1002.60 229.31,1001.80 230.00,1001.11 230.80,1000.55 231.68,1000.14 232.63,999.89 233.60,999.80 234.57,999.89 235.52,1000.14 236.40,1000.55 237.20,1001.11 237.89,1001.80 238.45,1002.60 238.86,1003.48 239.11,1004.43" fill="#d4d4d4" stroke="#000" stroke-width="1.3" stroke-linejoin="round"/>
<clipPath id="c16"><rect x="227.00" y="998.80" width="13.20" height="6.60"/></clipPath>
<polygon points="239.20,1005.40 239.11,1006.37 238.86,1007.32 238.45,1008.20 237.89,1009.00 237.20,1009.69 236.40,1010.25 235.52,1010.66 234.57,1010.91 233.60,1011.00 232.63,1010.91 231.68,1010.66 230.80,1010.25 230.00,1009.69 229.31,1009.00 228.75,1008.20 228.34,1007.32 228.09,1006.37 228.00,1005.40 228.09,1004.43 228.34,1003.48 228.75,1002.60 229.31,1001.80 230.00,1001.11 230.80,1000.55 231.68,1000.14 232.63,999.89 233.60,999.80 234.57,999.89 235.52,1000.14 236.40,1000.55 237.20,1001.11 237.89,1001.80 238.45,1002.60 238.86,1003.48 239.11,1004.43" fill="#000" stroke="#000" stroke-width="1.3" clip-path="url(#c16)"/>
<polygon points="222.80,1010.80 228.30,1021.25 217.30,1021.25" fill="#e8e8e8" stroke="#000" stroke-width="1.3" stroke-linejoin="round"/>
<clipPath id="c17"><rect x="222.80" y="1009.80" width="6.50" height="13.00"/></clipPath>
<polygon points="222.80,1010.80 228.30,1021.25 217.30,1021.25" fill="#000" stroke="#000" stroke-width="1.3" clip-path="url(#c17)"/>
<polygon points="299.05,914.90 298.96,915.90 298.70,916.87 298.28,917.77 297.70,918.60 297.00,919.30 296.18,919.88 295.27,920.30 294.30,920.56 293.30,920.65 292.30,920.56 291.33,920.30 290.43,919.88 289.60,919.30 288.90,918.60 288.32,917.77 287.90,916.87 287.64,915.90 287.55,914.90 287.64,913.90 287.90,912.93 288.32,912.02 288.90,911.20 289.60,910.50 290.43,909.92 291.33,909.50 292.30,909.24 293.30,909.15 294.30,909.24 295.27,909.50 296.18,909.92 297.00,910.50 297.70,911.20 298.28,912.02 298.70,912.93 298.96,913.90" fill="#fff" stroke="#000" stroke-width="1.3" stroke-linejoin="round"/>
<circle cx="293.30" cy="914.90" r="1.9" fill="#000"/>
<polygon points="292.90,999.20 298.70,1005.00 292.90,1010.80 287.10,1005.00" fill="none" stroke="#000" stroke-width="1.3" stroke-linejoin="round"/>
<line x1="287.10" y1="1005.00" x2="298.70" y2="1005.00" stroke="#000" stroke-width="0.9"/>
<line x1="292.90" y1="999.20" x2="292.90" y2="1010.80" stroke="#000" stroke-width="0.9"/>
<line x1="292.90" y1="1010.00" x2="292.90" y2="1014.00" stroke="#111" stroke-width="1.2"/>
<polygon points="285.90,1012.30 299.90,1012.30 299.90,1026.30 285.90,1026.30" fill="#e4e4e4" stroke="#000" stroke-width="1.3" stroke-linejoin="round"/>
<line x1="285.90" y1="1012.30" x2="299.90" y2="1026.30" stroke="#000" stroke-width="1.25"/>
<line x1="285.90" y1="1026.30" x2="299.90" y2="1012.30" stroke="#000" stroke-width="1.25"/>
<polygon points="299.15,1022.50 299.06,1023.59 298.77,1024.64 298.31,1025.62 297.69,1026.52 296.92,1027.29 296.02,1027.91 295.04,1028.37 293.99,1028.66 292.90,1028.75 291.81,1028.66 290.76,1028.37 289.77,1027.91 288.88,1027.29 288.11,1026.52 287.49,1025.62 287.03,1024.64 286.74,1023.59 286.65,1022.50 286.74,1021.41 287.03,1020.36 287.49,1019.38 288.11,1018.48 288.88,1017.71 289.77,1017.09 290.76,1016.63 291.81,1016.34 292.90,1016.25 293.99,1016.34 295.04,1016.63 296.02,1017.09 296.92,1017.71 297.69,1018.48 298.31,1019.38 298.77,1020.36 299.06,1021.41" fill="#000" stroke="#000" stroke-width="0.78" stroke-linejoin="round"/>
<polygon points="286.60,1017.20 299.20,1017.20 299.20,1029.80 286.60,1029.80" fill="#000" stroke="#000" stroke-width="0.78" stroke-linejoin="round"/>
<polygon points="286.10,1026.50 289.50,1021.06 296.30,1021.06 299.70,1026.50 296.30,1031.94 289.50,1031.94" fill="#000" stroke="#000" stroke-width="0.78" stroke-linejoin="round"/>
<polygon points="292.90,1033.85 298.15,1023.87 287.65,1023.87" fill="#000" stroke="#000" stroke-width="0.78" stroke-linejoin="round"/>
<polygon points="292.90,1022.75 298.15,1028.00 292.90,1033.25 287.65,1028.00" fill="#000" stroke="#000" stroke-width="0.78" stroke-linejoin="round"/>
<circle cx="289.4" cy="1018.0" r="0.7" fill="#aaa"/>
<circle cx="295.4" cy="1017.0" r="0.7" fill="#aaa"/>
<circle cx="297.1" cy="1020.5" r="0.7" fill="#aaa"/>
<circle cx="291.4" cy="1023.0" r="0.7" fill="#aaa"/>
<circle cx="295.9" cy="1025.0" r="0.7" fill="#aaa"/>
<circle cx="288.9" cy="1026.5" r="0.7" fill="#aaa"/>
<circle cx="293.4" cy="1029.0" r="0.7" fill="#aaa"/>
</svg></body></html>
